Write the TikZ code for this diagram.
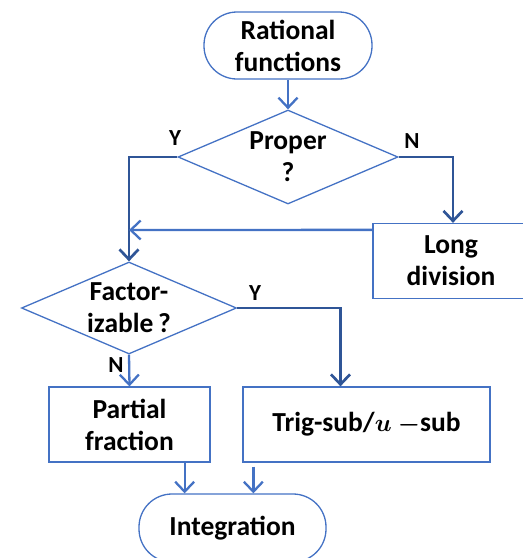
\documentclass[tikz,border=0pt]{standalone}
\usepackage{fontspec}
\setmainfont{Carlito}
\usetikzlibrary{shapes.geometric, positioning, arrows.meta}
\definecolor{OfBlue}{RGB}{68,114,196}
\definecolor{OfDark}{RGB}{47,85,151}

\begin{document}
\begin{tikzpicture}[x=1pt, y=-1pt,
          every node/.style={font=\bfseries\fontsize{27.5}{32}\selectfont, text=black},
          term/.style={rectangle, rounded corners=33pt, draw=OfBlue, line width=1.3pt,
                       minimum height=67pt, align=center, inner sep=0pt},
          dec/.style={diamond, draw=OfBlue, line width=1.3pt, aspect=2.34,
                      inner sep=0pt, align=center},
          proc/.style={rectangle, draw=OfBlue, line width=1.3pt, minimum height=75pt,
                       align=center, inner sep=0pt},
          lbl/.style={font=\bfseries\fontsize{23}{26}\selectfont},
          arrL/.style={-{Straight Barb[length=10pt, width=19pt]}, draw=OfBlue, line width=2.3pt},
          arrD/.style={-{Straight Barb[length=10pt, width=19pt]}, draw=OfDark, line width=2.7pt}
        ]
        \useasboundingbox (0,0) rectangle (523,558);

        \node[term, minimum width=168pt] (rational) at (288, 45.5) {Rational\\functions};

        \node[dec, minimum width=220pt, minimum height=94pt] (proper) at (288, 157) {Proper\\?};

        \node[proc, minimum width=156pt] (longdiv) at (451, 261) {Long\\division};

        \node[dec, minimum width=215pt, minimum height=92pt] (factor) at (129, 308) {Factor-\\izable\,?};

        \node[proc, minimum width=161pt] (partial) at (129.5, 424.5) {Partial\\fraction};
        \node[proc, minimum width=247pt] (trig)    at (366.5, 424.5) {Trig-sub/{\boldmath$u$ $-$}sub};

        \node[term, minimum width=187pt, minimum height=68pt] (integ) at (232.5, 528) {Integration};

        % branch labels
        \node[lbl] (properY) at (175, 138) {Y};
        \node[lbl] (properN) at (412, 141) {N};
        \node[lbl] (factorY) at (255, 293) {Y};
        \node[lbl] (factorN) at (116, 365) {N};

        \coordinate (merge) at (129, 230);

        \draw[arrL] (rational) -- (proper);
        \draw[arrD] (proper.west) -| (factor.north);
        \draw[arrD] (proper.east) -| ([xshift=2pt]longdiv.north);
        \draw[arrL] ([yshift=-7pt]longdiv.north west) -- (merge);
        \draw[arrD] (factor.east) -| ([xshift=-26pt]trig.north);
        \draw[arrL] (factor.south) -- (partial.north);
        \draw[arrL] ([xshift=-26pt]partial.south east) -- ([xshift=-26pt]partial.south east |- integ.north);
        \draw[arrL] ([xshift=11pt, yshift=-4pt]trig.south west) -- ([xshift=11pt]trig.south west |- integ.north);
      \end{tikzpicture}
\end{document}
